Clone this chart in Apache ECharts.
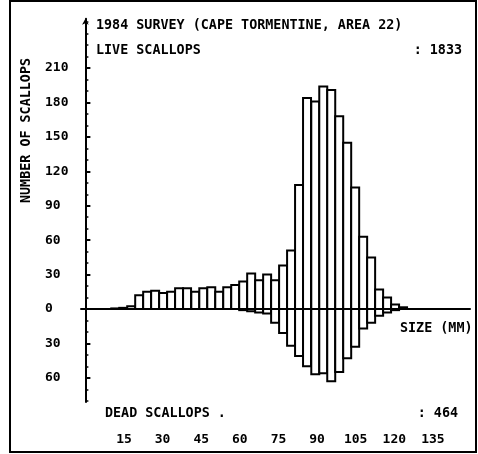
<!DOCTYPE html>
<html>
<head>
<meta charset="utf-8">
<script src="https://cdn.jsdelivr.net/npm/echarts@6/dist/echarts.min.js"></script>
<style>
  html, body { margin: 0; padding: 0; background: #fff; }
  #chart { width: 478px; height: 454px; }
</style>
</head>
<body>
<div id="chart"></div>
<script>
// Shell-height classes (mm): centre of each size bin
const sizeBins = [11.6, 14.7, 17.8,
  20.9, 24.0, 27.1, 30.2, 33.3, 36.4, 39.5, 42.7, 45.8, 48.9, 52.0, 55.1, 58.2,
  61.3, 64.4, 67.5, 70.6, 73.7, 76.8, 79.9,
  83.0, 86.1, 89.3, 92.4, 95.5, 98.6, 101.7, 104.8, 107.9, 111.0, 114.1, 117.2, 120.3, 123.4];
const binWidth = 3.1;

// Live scallops per size bin
const liveCounts = [0.5, 1, 2.5,
  12, 15, 16, 14, 15, 18, 18, 15, 18, 19, 15, 19, 21,
  24, 31, 25, 30, 25, 38, 51,
  108, 184, 181, 194, 191, 168, 145, 106, 63, 45, 17, 10, 4, 1.5];

// Dead scallops (shells) per size bin, drawn below the zero line
const deadCounts = [0, 0, 0,
  0, 0, 0, 0, 0, 0, 0, 0, 0, 0, 0, 0, 0,
  1, 2, 3, 4, 12, 21, 32,
  41, 50, 57, 56, 63, 55, 43, 33, 17, 12, 6, 3, 1, 0];

const sizeTicks = [15, 30, 45, 60, 75, 90, 105, 120, 135];
const countTicks = [-60, -30, 0, 30, 60, 90, 120, 150, 180, 210];
const minorTicks = [-80, -70, -60, -50, -40, -30, -20, -10, 0, 10, 20, 30, 40, 50, 60, 70, 80, 90,
  100, 110, 120, 130, 140, 150, 160, 170, 180, 190, 200, 210, 220, 230, 240, 250];

const titleText = '1984 SURVEY (CAPE TORMENTINE, AREA 22)';
const liveLabel = 'LIVE SCALLOPS';
const liveTotal = ': 1833';
const deadLabel = 'DEAD SCALLOPS .';
const deadTotal = ': 464';
const yName = 'NUMBER OF SCALLOPS';
const xName = 'SIZE (MM)';

const FONT = 'bold 13.4px "DejaVu Sans Mono"';
const INK = '#000';

function histBar(sign) {
  return function (params, api) {
    const c = api.value(0);
    const v = api.value(1) * sign;
    if (!v) return null;
    const a = api.coord([c - binWidth / 2, 0]);
    const b = api.coord([c + binWidth / 2, v]);
    return {
      type: 'rect',
      shape: { x: a[0], y: Math.min(a[1], b[1]), width: b[0] - a[0], height: Math.abs(b[1] - a[1]) },
      style: { fill: '#fff', stroke: INK, lineWidth: 2 }
    };
  };
}

const liveData = sizeBins.map((s, i) => [s, liveCounts[i]]);
const deadData = sizeBins.map((s, i) => [s, deadCounts[i]]);

function label(text, x, y, align, rotation) {
  return {
    type: 'text', x: x, y: y, rotation: rotation || 0, z: 10,
    style: {
      text: text, font: FONT, fill: INK,
      align: align, verticalAlign: 'middle',
      textAlign: align, textVerticalAlign: 'middle'
    }
  };
}

const chart = echarts.init(document.getElementById('chart'), null, { renderer: 'canvas' });
chart.setOption({
  animation: false,
  backgroundColor: '#fff',
  grid: { left: 81, right: 8, top: 18.8, bottom: 52.1, containLabel: false },
  xAxis: [
    {
      type: 'value', min: -1.7, max: 149.4,
      axisLine: { show: false },
      axisTick: { show: false },
      splitLine: { show: false },
      axisLabel: {
        customValues: sizeTicks, margin: 31,
        color: INK, fontFamily: 'DejaVu Sans Mono', fontWeight: 'bold', fontSize: 13
      }
    },
    {
      type: 'value', min: -1.7, max: 149.4, position: 'bottom',
      axisLine: { show: true, onZero: true, lineStyle: { color: INK, width: 2 } },
      axisTick: { show: false },
      axisLabel: { show: false },
      splitLine: { show: false }
    }
  ],
  yAxis: [
    {
      type: 'value', min: -81, max: 253,
      axisLine: { show: true, lineStyle: { color: INK, width: 2 }, symbol: ['none', 'arrow'], symbolSize: [5, 6] },
      axisTick: { show: true, inside: true, length: 5, customValues: countTicks, lineStyle: { color: INK, width: 2 } },
      splitLine: { show: false },
      axisLabel: {
        customValues: countTicks, margin: 36, align: 'left',
        formatter: v => String(Math.abs(v)),
        color: INK, fontFamily: 'DejaVu Sans Mono', fontWeight: 'bold', fontSize: 13
      }
    },
    {
      type: 'value', min: -81, max: 253, position: 'left',
      axisLine: { show: false },
      axisTick: { show: true, inside: true, length: 3, customValues: minorTicks, lineStyle: { color: INK, width: 1.5 } },
      axisLabel: { show: false },
      splitLine: { show: false }
    }
  ],
  series: [
    {
      name: 'live', type: 'custom', xAxisIndex: 0, yAxisIndex: 0,
      renderItem: histBar(1), data: liveData, encode: { x: 0, y: 1 }, z: 3
    },
    {
      name: 'dead', type: 'custom', xAxisIndex: 0, yAxisIndex: 0,
      renderItem: histBar(-1), data: deadData, encode: { x: 0, y: 1 }, z: 3
    }
  ],
  graphic: [
    {
      type: 'rect', z: 10,
      shape: { x: 10, y: 1, width: 466, height: 451 },
      style: { fill: 'none', stroke: INK, lineWidth: 2 }
    },
    label(titleText, 96, 26, 'left'),
    label(liveLabel, 96, 51, 'left'),
    label(liveTotal, 462, 51, 'right'),
    label(yName, 27, 130.5, 'center', Math.PI / 2),
    label(xName, 400, 329, 'left'),
    label(deadLabel, 105, 414, 'left'),
    label(deadTotal, 458, 414, 'right')
  ]
});
</script>
</body>
</html>
